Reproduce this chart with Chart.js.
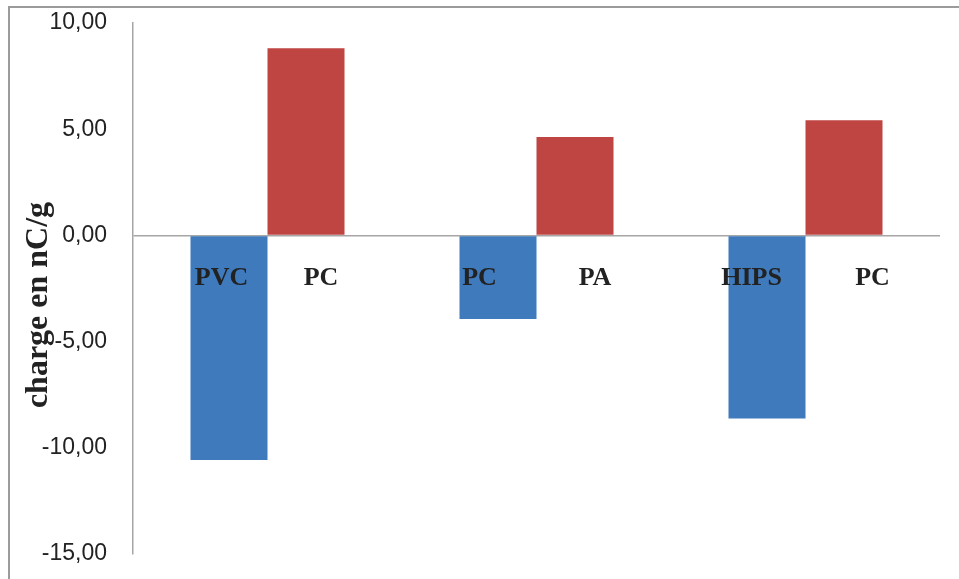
<!DOCTYPE html>
<html>
<head>
<meta charset="utf-8">
<script src="https://cdn.jsdelivr.net/npm/chart.js@4"></script>
<style>
  html, body { margin: 0; padding: 0; background: #fff; }
  #wrap { width: 959px; height: 579px; position: relative; }
</style>
</head>
<body>
<div id="wrap"><canvas id="c" width="959" height="579"></canvas></div>
<script>
// Charge triboélectrique mesurée pour chaque couple de polymères (nC/g)
const couples = ['PVC / PC', 'PC / PA', 'HIPS / PC'];
const chargeNegative = [-10.58, -3.94, -8.62];
const chargePositive = [8.81, 4.63, 5.42];
const matNegatif = ['PVC', 'PC', 'HIPS'];
const matPositif = ['PC', 'PA', 'PC'];
const yTicks = [10, 5, 0, -5, -10, -15];

const fmt = v => v.toFixed(2).replace('.', ',');

// Horizontal nudges of the material names relative to their bar centre (px)
const nudgeNeg = [-7.5, -18.5, -15.5];
const nudgePos = [15, 20, 28.5];

const framePlugin = {
  id: 'frame',
  beforeDraw(chart) {
    const ctx = chart.ctx;
    ctx.save();
    ctx.fillStyle = '#fff';
    ctx.fillRect(0, 0, chart.width, chart.height);
    ctx.strokeStyle = '#9b9b9b';
    ctx.lineWidth = 2;
    ctx.strokeRect(9, 7, chart.width + 20, chart.height + 20);
    ctx.restore();
  },
  afterDraw(chart) {
    const ctx = chart.ctx;
    ctx.save();
    ctx.translate(39, 305);
    ctx.rotate(-Math.PI / 2);
    ctx.font = 'bold 32px "Liberation Serif"';
    ctx.fillStyle = '#222';
    ctx.textAlign = 'center';
    ctx.textBaseline = 'middle';
    ctx.fillText('charge en nC/g', 0, 0);
    ctx.restore();
  }
};

const namePlugin = {
  id: 'names',
  afterDatasetsDraw(chart) {
    const ctx = chart.ctx;
    const y0 = chart.scales.y.getPixelForValue(0);
    ctx.save();
    ctx.font = 'bold 26px "Liberation Serif"';
    ctx.fillStyle = '#222';
    ctx.textAlign = 'center';
    ctx.textBaseline = 'alphabetic';
    const draw = (dsIndex, names, nudge) => {
      chart.getDatasetMeta(dsIndex).data.forEach((bar, i) => {
        ctx.fillText(names[i], bar.x + nudge[i], y0 + 50);
      });
    };
    draw(0, matNegatif, nudgeNeg);
    draw(1, matPositif, nudgePos);
    ctx.restore();
  }
};

new Chart(document.getElementById('c'), {
  type: 'bar',
  data: {
    labels: couples,
    datasets: [
      { label: 'négatif', data: chargeNegative, backgroundColor: '#3f7abd' },
      { label: 'positif', data: chargePositive, backgroundColor: '#be4542' }
    ]
  },
  options: {
    responsive: false,
    animation: false,
    devicePixelRatio: 1,
    layout: { padding: { top: 23, bottom: 25, right: 19, left: 0 } },
    plugins: { legend: { display: false }, tooltip: { enabled: false } },
    datasets: { bar: { categoryPercentage: 0.5725, barPercentage: 1 } },
    scales: {
      x: { display: false },
      y: {
        min: -15, max: 10,
        afterFit(scale) {
          scale.width = 133;
          scale.paddingTop = 0;
          scale.paddingBottom = 0;
        },
        afterBuildTicks(scale) { scale.ticks = yTicks.map(v => ({ value: v })); },
        border: { display: true, color: '#a6a6a6', width: 1.5 },
        grid: {
          drawTicks: false,
          color: ctx => ctx.tick && ctx.tick.value === 0 ? '#a6a6a6' : 'rgba(0,0,0,0)',
          lineWidth: 1.5
        },
        ticks: {
          padding: 26,
          color: '#222',
          font: { family: '"Liberation Sans", Arial, sans-serif', size: 23 },
          callback: v => fmt(v)
        }
      }
    }
  },
  plugins: [framePlugin, namePlugin]
});
</script>
</body>
</html>
